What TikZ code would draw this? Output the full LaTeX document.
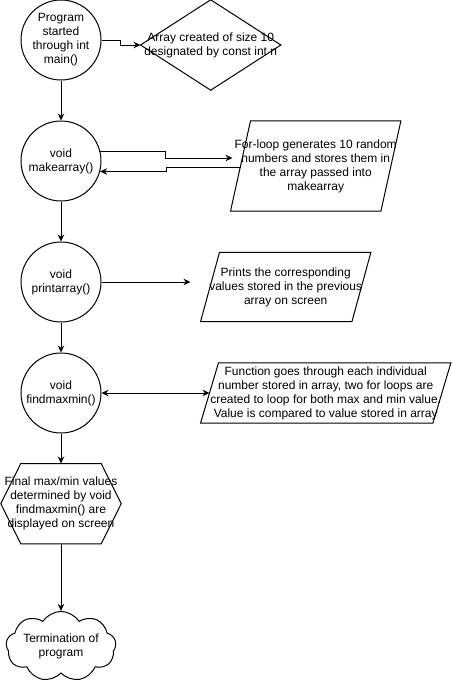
\documentclass[tikz,border=0pt]{standalone}
\usepackage{fontspec}
\setmainfont{Liberation Sans}
\usetikzlibrary{positioning,shapes.symbols,arrows.meta}

\begin{document}
\begin{tikzpicture}[x=1pt, y=1pt,
    every node/.style={font=\fontsize{12pt}{14pt}\selectfont, align=center, inner sep=-10pt},
    line/.style={line width=1pt},
    flow/.style={line, -{Stealth[length=7pt, width=6.5pt]}},
    stage/.style={circle, draw, line, minimum size=80pt},
    textbox/.style={rectangle, minimum width=#1},
    endcloud/.style={cloud, draw, line, cloud puffs=9, cloud puff arc=115,
      cloud ignores aspect, minimum width=110pt, minimum height=70pt},
  ]
  \useasboundingbox (0,0) rectangle (451,-681);

  % Main chain of functions
  \node[stage] (start) at (61,-40) {Program\\started\\through int\\main()};
  \node[stage, below=40pt of start] (make) {void\\makearray()};
  \node[stage, below=40pt of make] (print) {void\\printarray()};
  \node[stage, below=30pt of print] (findmm) {void\\findmaxmin()};
  \node[textbox=120pt, minimum height=80pt, below=30pt of findmm] (final)
    {Final max/min values\\determined by void\\findmaxmin() are\\displayed on screen};
  \node[endcloud, below=67pt of final] (term) {Termination of\\program};

  %Boxes on the right side
  \node[textbox=140pt, minimum height=90pt, right=39pt of start, yshift=-5pt] (arr)
    {Array created of size 10\\designated by const int n};
  \node[textbox=170pt, minimum height=90pt, right=129pt of make, yshift=-5pt] (loop)
    {For-loop generates 10 random\\numbers and stores them in\\the array passed into\\makearray};
  \node[textbox=170pt, minimum height=69pt, right=99pt of print, yshift=-5pt] (show)
    {Prints the corresponding\\values stored in the previous\\array on screen};
  \node[textbox=250pt, minimum height=60pt, right=99pt of findmm] (func)
    {Function goes through each individual\\number stored in array, two for loops are\\created to loop for both max and min value.\\Value is compared to value stored in array};
  \coordinate[right=89pt of print.east] (showtip);

  % Outlines of diamond, parallelograms and hexagon
  \draw[line] (arr.west) -- (arr.north) -- (arr.east) -- (arr.south) -- cycle;
  \foreach \n/\s in {loop/20pt, show/19pt, func/18pt}
    \draw[line] ([xshift=\s]\n.north west) -- (\n.north east)
      -- ([xshift=-\s]\n.south east) -- (\n.south west) -- cycle;
  \draw[line] (final.west) -- ([xshift=20pt]final.north west) -- ([xshift=-20pt]final.north east)
    -- (final.east) -- ([xshift=-20pt]final.south east) -- ([xshift=20pt]final.south west) -- cycle;

  % Connectors
  \draw[flow] (start.east) -- ++(19pt,0) |- (arr.west);
  \draw[flow] (start) -- (make);
  \draw[flow] (make.13) -- ++(65pt,0) |- ([xshift=2pt, yshift=8pt]loop.west);
  \draw[flow] ([xshift=10pt, yshift=-1pt]loop.west) -- ++(-74pt,0) |- (make.-15);
  \draw[flow] (make) -- (print);
  \draw[flow] (print.east) -- (showtip);
  \draw[flow] (print) -- (findmm);
  \draw[line, {Stealth[length=7pt, width=6.5pt]}-{Stealth[length=7pt, width=6.5pt]}]
    (findmm.east) -- ([xshift=9pt]func.west);
  \draw[flow] (findmm) -- (final);
  \draw[flow] (final) -- (term);
\end{tikzpicture}
\end{document}
